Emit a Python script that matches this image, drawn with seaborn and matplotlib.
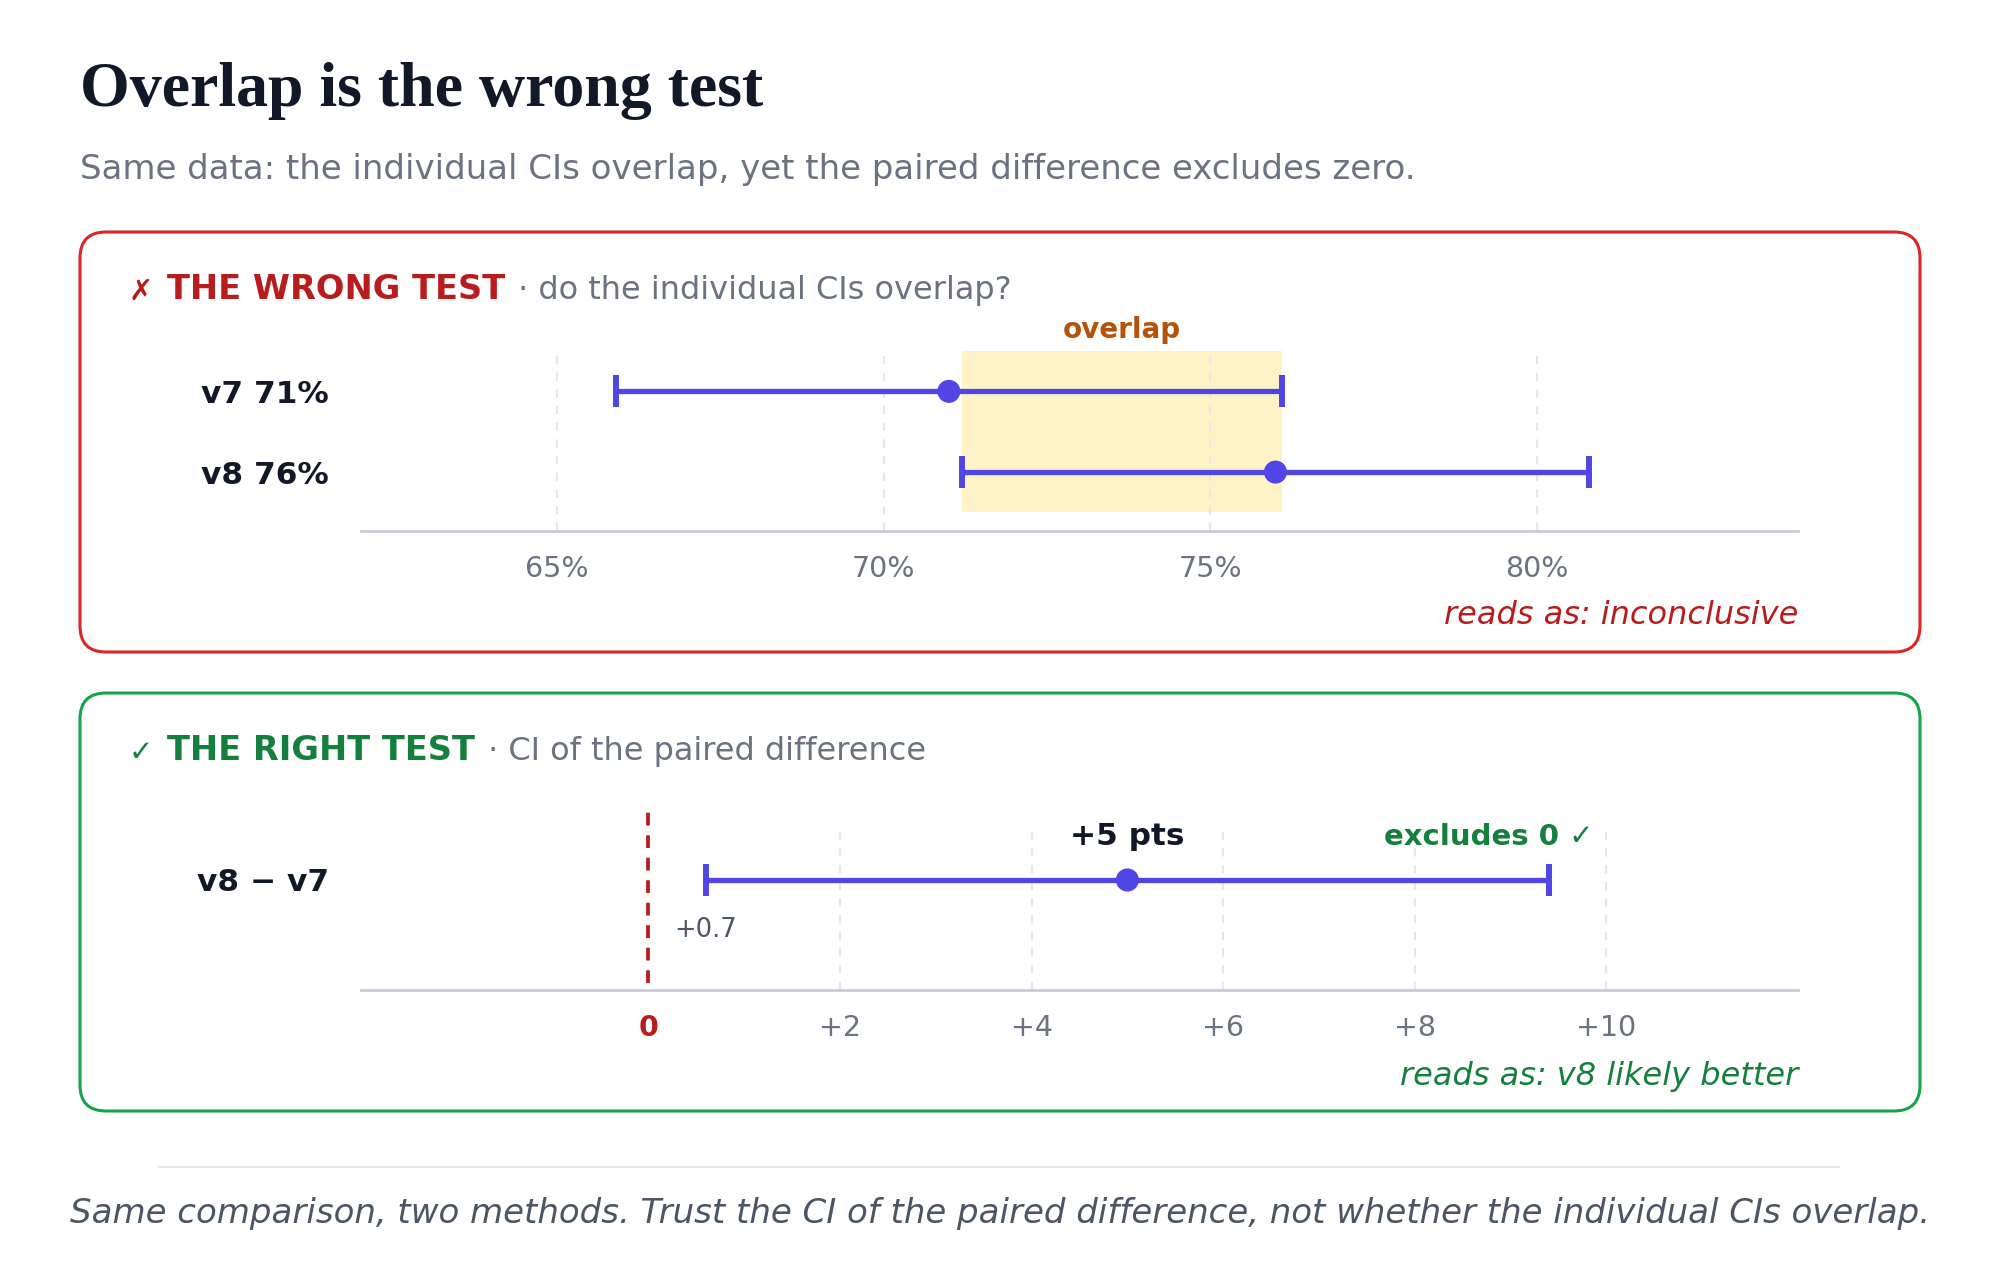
import numpy as np
import pandas as pd
import matplotlib
matplotlib.use("Agg")
import matplotlib.pyplot as plt
import seaborn as sns
from matplotlib.patches import FancyBboxPatch

# individual results (percent) with 95% CIs
versions = ["v7", "v8"]
rates = [71.0, 76.0]
ci_low = [65.9, 71.2]
ci_high = [76.1, 80.8]
pct_ticks = [65, 70, 75, 80]

# paired difference (points)
diff_name = "v8 − v7"
diff_mean = 5.0
diff_low = 0.6
diff_high = 9.4
diff_low_label = "+0.7"
diff_ticks = [0, 2, 4, 6, 8, 10]

INDIGO = "#4f46e5"
RED = "#b91c1c"
GREEN = "#15803d"
GRAY = "#6b7280"
DARK = "#111827"

sns.set_theme(style="white")
plt.rcParams["font.family"] = ["DejaVu Sans"]

W, H = 2000, 1272
fig = plt.figure(figsize=(20, 12.72), dpi=100)
fig.patch.set_facecolor("white")

# background axes in pixel units for boxes and free text
bg = fig.add_axes([0, 0, 1, 1])
bg.set_xlim(0, W)
bg.set_ylim(H, 0)
bg.axis("off")


def px_axes(left, top, right, bottom):
    ax = fig.add_axes([left / W, 1 - bottom / H, (right - left) / W, (bottom - top) / H])
    ax.set_facecolor("none")
    for s in ["top", "left", "right"]:
        ax.spines[s].set_visible(False)
    ax.spines["bottom"].set_color("#c9ccd9")
    ax.spines["bottom"].set_linewidth(2)
    ax.tick_params(axis="both", length=0)
    return ax


def header(y, mark, bold, rest, color):
    t0 = bg.text(129, y, mark, color=color, fontsize=21, va="center", ha="left")
    t1 = bg.annotate(bold, xy=(1, 0), xycoords=t0, xytext=(10, 0), textcoords="offset points",
                     color=color, fontsize=24.2, fontweight="bold", va="bottom", ha="left")
    bg.annotate(rest, xy=(1, 0), xycoords=t1, xytext=(2, 0), textcoords="offset points",
                color=GRAY, fontsize=23, va="bottom", ha="left")


# title block
bg.text(80, 106, "Overlap is the wrong test", family="Liberation Serif", fontweight="bold",
        fontsize=46, color=DARK, va="baseline")
bg.text(80, 170, "Same data: the individual CIs overlap, yet the paired difference excludes zero.",
        fontsize=24.5, color=GRAY, va="center")

# panel frames
bg.add_patch(FancyBboxPatch((80, 232), 1840, 420, boxstyle="round,pad=0,rounding_size=26",
                            fc="white", ec="#dc2626", lw=2.2))
bg.add_patch(FancyBboxPatch((80, 693), 1840, 418, boxstyle="round,pad=0,rounding_size=26",
                            fc="white", ec="#16a34a", lw=2.2))

header(292, "✗", "THE WRONG TEST", " · do the individual CIs overlap?", RED)
header(753, "✓", "THE RIGHT TEST", " · CI of the paired difference", GREEN)

# ---- top panel: individual CIs ----
df = pd.DataFrame({"version": versions, "rate": rates, "lo": ci_low, "hi": ci_high})
df["pos"] = np.arange(len(df))

ax1 = px_axes(361, 351, 1798, 531)
ov_lo, ov_hi = max(ci_low), min(ci_high)
ax1.fill_betweenx([-0.5, 1.5], ov_lo, ov_hi, color="#fef3c7", lw=0, zorder=0)
for t in pct_ticks:
    ax1.axvline(t, color="#e5e7eb", lw=1.5, ls=(0, (4, 4)), zorder=0.5)
ax1.errorbar(df["rate"], df["pos"], xerr=[df["rate"] - df["lo"], df["hi"] - df["rate"]],
             fmt="none", ecolor=INDIGO, elinewidth=3.8, capsize=11.5, capthick=4.3, zorder=2)
sns.scatterplot(data=df, x="rate", y="pos", ax=ax1, s=275, color=INDIGO, edgecolor="none", zorder=3)
ax1.set_xlim(62, 84)
ax1.set_ylim(1.73, -0.5)
ax1.set_xticks(pct_ticks)
ax1.set_xticklabels([f"{t}%" for t in pct_ticks], fontsize=20.5, color=GRAY)
ax1.set_yticks(df["pos"])
ax1.set_yticklabels([f"{v} {r:.0f}%" for v, r in zip(versions, rates)],
                    fontsize=22.5, fontweight="bold", color=DARK)
ax1.tick_params(axis="x", pad=17)
ax1.tick_params(axis="y", pad=23)
ax1.set_xlabel("")
ax1.set_ylabel("")
ax1.annotate("overlap", xy=((ov_lo + ov_hi) / 2, 1), xycoords=("data", "axes fraction"),
             xytext=(0, 15), textcoords="offset points", ha="center", va="center",
             fontsize=20, fontweight="bold", color="#b45309")
bg.text(1798, 615, "reads as: inconclusive", ha="right", va="center", style="italic",
        fontsize=23, color=RED)

# ---- bottom panel: paired difference ----
ax2 = px_axes(361, 811, 1798, 990)
for t in diff_ticks[1:]:
    ax2.axvline(t, ymax=0.894, color="#e5e7eb", lw=1.5, ls=(0, (4, 4)), zorder=0.5)
ax2.axvline(0, ymin=0.04, ymax=1, color=RED, lw=2.7, ls=(0, (3.4, 2.6)), zorder=1)
ax2.errorbar([diff_mean], [0], xerr=[[diff_mean - diff_low], [diff_high - diff_mean]],
             fmt="none", ecolor=INDIGO, elinewidth=3.8, capsize=11.5, capthick=4.3, zorder=2)
sns.scatterplot(x=[diff_mean], y=[0], ax=ax2, s=275, color=INDIGO, edgecolor="none", zorder=3)
ax2.set_xlim(-3, 12)
ax2.set_ylim(1.368, -0.858)
ax2.set_xticks(diff_ticks)
ax2.set_xticklabels(["0" if t == 0 else f"+{t}" for t in diff_ticks], fontsize=20.5, color=GRAY)
zero_lab = ax2.get_xticklabels()[0]
zero_lab.set_color(RED)
zero_lab.set_fontweight("bold")
ax2.set_yticks([0])
ax2.set_yticklabels([diff_name], fontsize=22.5, fontweight="bold", color=DARK)
ax2.tick_params(axis="x", pad=17)
ax2.tick_params(axis="y", pad=23)
ax2.annotate(f"+{diff_mean:.0f} pts", xy=(diff_mean, 0), xytext=(0, 31), textcoords="offset points",
             ha="center", va="center", fontsize=22.5, fontweight="bold", color=DARK)
ax2.annotate(diff_low_label, xy=(diff_low, 0), xytext=(0, -36), textcoords="offset points",
             ha="center", va="center", fontsize=18.5, color="#4b5563")
ax2.annotate("excludes 0 ✓", xy=(diff_high, 0), xytext=(32, 31), textcoords="offset points",
             ha="right", va="center", fontsize=21, fontweight="bold", color=GREEN)
bg.text(1798, 1076, "reads as: v8 likely better", ha="right", va="center", style="italic",
        fontsize=23, color=GREEN)

# footer
bg.plot([159, 1839], [1167, 1167], color="#e5e7eb", lw=1.5)
bg.text(1000, 1213, "Same comparison, two methods. Trust the CI of the paired difference, "
        "not whether the individual CIs overlap.", ha="center", va="center", style="italic",
        fontsize=24.5, color="#4b5563")

fig.savefig("out.png", dpi=100)
